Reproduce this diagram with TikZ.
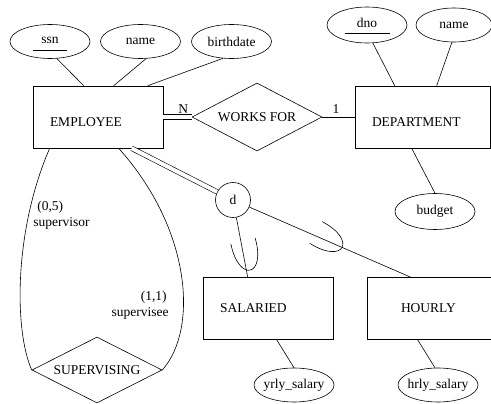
\documentclass[tikz,border=0pt]{standalone}
\usepackage{fontspec}
\setmainfont{Liberation Serif}
\newfontfamily\erfont{Liberation Serif}
\usetikzlibrary{shapes.geometric,calc}
\tikzset{
  entity/.style={draw, minimum height=62pt, text width=96pt, inner xsep=17pt, align=left},
  lowtext/.style={text height=19pt, text depth=0pt},
  attr/.style={draw, ellipse, minimum width=80pt, minimum height=34pt, inner sep=0pt},
  rel/.style={draw, diamond, aspect=2, minimum width=130pt, minimum height=68pt, inner sep=0pt},
  role/.style={inner sep=0pt},
  dbl/.style={double, double distance=4pt},
  subset/.pic={\draw (-12.5,0) .. controls (-14,40) and (14,40) .. (12.5,0);}
}
\begin{document}
\begin{tikzpicture}[x=1pt, y=-1pt, line width=0.6pt, font=\erfont\fontsize{13.5}{16}\selectfont]
  \useasboundingbox (0,0) rectangle (491,404);
  \clip (0,0) rectangle (491,404);
  % entities
  \node[entity, lowtext] (employee) at (98,117) {EMPLOYEE};
  \node[entity, lowtext, text width=101pt] (department) at (422.5,117) {DEPARTMENT};
  \node[entity] (salaried) at (268,308.5) {SALARIED};
  \node[entity, inner xsep=34pt, text width=62pt] (hourly) at (432,308.5) {HOURLY};
  % relationships
  \node[rel] (worksfor) at (257,117) {WORKS FOR};
  \node[rel, minimum height=66pt] (supervising) at (97,370) {SUPERVISING};
  \node[draw, circle, minimum size=35pt, inner sep=0pt] (d) at (233,200) {d};
  % attributes
  \node[attr] (ssn) at (50,41.5) {\underline{\makebox[35pt]{\strut ssn}}};
  \node[attr] (ename) at (140.5,41.5) {name};
  \node[attr] (bdate) at (231.5,41.5) {birthdate};
  \node[attr, minimum height=36pt] (dno) at (367,25) {\underline{\makebox[45pt]{\strut dno}}};
  \node[attr, minimum width=76pt] (dname) at (454,25) {name};
  \node[attr, minimum height=36pt] (budget) at (435,211.5) {budget};
  \node[attr] (yrly) at (294,385) {\makebox[40pt]{yrly\_salary}};
  \node[attr] (hrly) at (438,385) {\makebox[40pt]{hrly\_salary}};
  % attribute links
  \draw (ssn.-68) -- ($(employee.north west)+(51,0)$);
  \draw (ename.-72) -- ($(employee.north west)+(81,0)$);
  \draw (bdate.-117) -- ($(employee.north west)+(115,0)$);
  \draw (dno.-72) -- ($(department.north west)+(40,0)$);
  \draw (dname.-97) -- ($(department.north west)+(82,0)$);
  \draw ($(department.south west)+(57,0)$) -- (budget.north);
  \draw ($(salaried.south west)+(74,0)$) -- (yrly.north);
  \draw ($(hourly.south west)+(51,0)$) -- (hrly.100);
  % works for
  \draw[dbl] (employee.east) -- node[above, pos=0.7] {N} (worksfor.west);
  \draw (worksfor.east) -- node[above, pos=0.42] {1} (department.west);
  % specialization
  \draw[dbl] ($(employee.south west)+(99,0)$) -- (d);
  \draw (d) -- ($(salaried.north west)+(45,0)$);
  \draw (d) -- ($(hourly.north west)+(44,0)$);
  \pic[rotate=14] at (243,241) {subset};
  \pic[rotate=60] at (316,232.5) {subset};
  % supervising
  \draw ($(employee.south west)+(17,0)$) .. controls (14,230) and (14,330) .. (supervising.west);
  \draw ($(employee.south west)+(86,0)$) .. controls (192,230) and (198,330) .. (supervising.east);
  \node[role, anchor=west] (minsup) at (37,207) {(0,5)};
  \node[role, anchor=west] (supervisor) at (33,223) {supervisor};
  \node[role, anchor=east] (minsub) at (167,297) {(1,1)};
  \node[role, anchor=east] (supervisee) at (169,313) {supervisee};
\end{tikzpicture}
\end{document}
